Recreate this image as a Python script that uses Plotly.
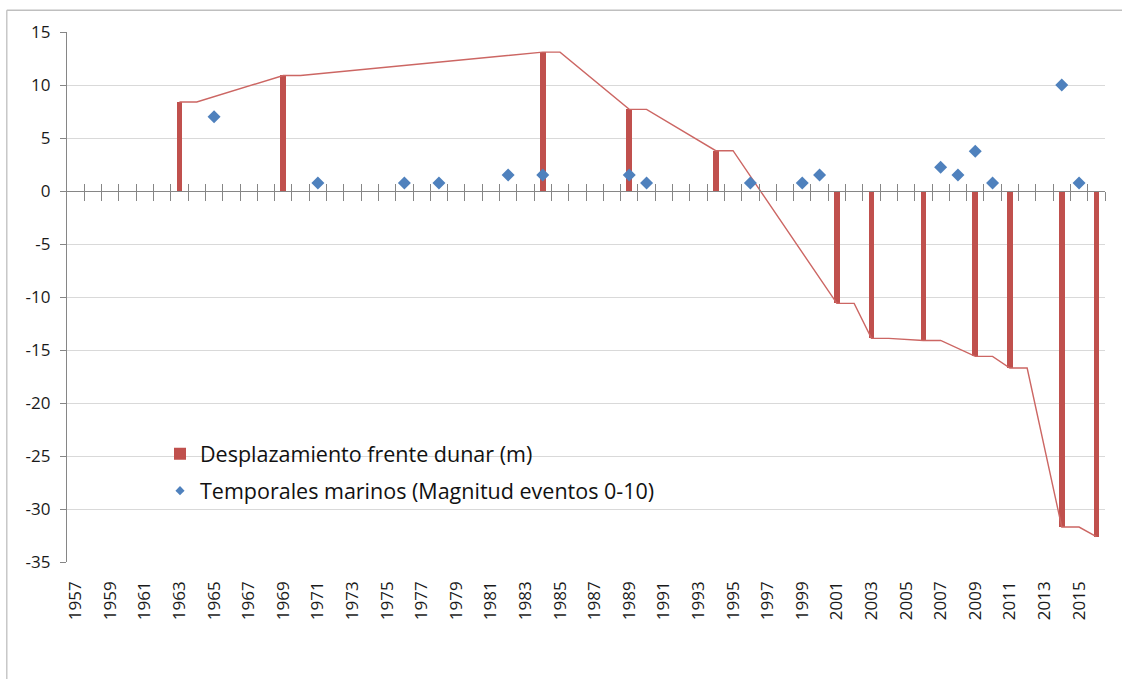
import plotly.graph_objects as go

# ---- data ----
first_year = 1957
last_year = 2016
label_years = list(range(1957, 2016, 2))

bar_years = [1963, 1969, 1984, 1989, 1994, 2001, 2003, 2006, 2009, 2011, 2014, 2016]
bar_values = [8.4, 10.9, 13.1, 7.7, 3.8, -10.6, -13.9, -14.1, -15.6, -16.7, -31.7, -32.6]

line_years = [1963, 1964, 1969, 1970, 1984, 1985, 1989, 1990, 1994, 1995, 2001, 2002,
              2003, 2004, 2006, 2007, 2009, 2010, 2011, 2012, 2014, 2015, 2016]
line_values = [8.4, 8.4, 10.9, 10.9, 13.1, 13.1, 7.7, 7.7, 3.8, 3.8, -10.6, -10.6,
               -13.9, -13.9, -14.1, -14.1, -15.6, -15.6, -16.7, -16.7, -31.7, -31.7, -32.6]

storm_years = [1965, 1971, 1976, 1978, 1982, 1984, 1989, 1990, 1996, 1999, 2000,
               2007, 2008, 2009, 2010, 2014, 2015]
storm_values = [7, 0.75, 0.75, 0.75, 1.5, 1.5, 1.5, 0.75, 0.75, 0.75, 1.5,
                2.25, 1.5, 3.75, 0.75, 10, 0.75]

y_ticks = [15, 10, 5, 0, -5, -10, -15, -20, -25, -30, -35]

bar_name = "Desplazamiento frente dunar (m)"
storm_name = "Temporales marinos (Magnitud eventos 0-10)"

y_min, y_max = -35, 15

FONT = "Open Sans"
AXIS_GREY = "#868686"
RED = "#C0504D"
BLUE = "#4F81BD"
TXT = "#1a1a1a"

x_range = [first_year - 0.5, last_year + 0.5]
boundaries = [y + 0.5 for y in range(first_year, last_year + 1)]
zero_pos = (0 - y_min) / (y_max - y_min)

fig = go.Figure()

fig.add_trace(go.Bar(
    x=bar_years, y=bar_values, width=0.33,
    marker=dict(color=RED, line=dict(width=0)),
    name=bar_name, legendgroup="a",
))
fig.add_trace(go.Scatter(
    x=line_years, y=line_values, mode="lines",
    line=dict(color="#CC6663", width=1.4),
    showlegend=False, hoverinfo="skip",
))
fig.add_trace(go.Scatter(
    x=storm_years, y=storm_values, mode="markers",
    marker=dict(symbol="diamond", size=10, color=BLUE),
    name=storm_name, showlegend=False,
))
# legend-only entry with a smaller diamond, as in the reference
fig.add_trace(go.Scatter(
    x=[None], y=[None], mode="markers",
    marker=dict(symbol="diamond", size=7, color=BLUE),
    name=storm_name, legendgroup="b", hoverinfo="skip",
))
# helper (empty) traces so the crossing-tick axes are drawn
fig.add_trace(go.Scatter(x=[None], y=[None], xaxis="x2", showlegend=False, hoverinfo="skip"))
fig.add_trace(go.Scatter(x=[None], y=[None], xaxis="x3", showlegend=False, hoverinfo="skip"))

fig.update_layout(
    width=1122, height=679,
    margin=dict(l=67, r=17, t=32, b=117),
    paper_bgcolor="white", plot_bgcolor="white",
    font=dict(family=FONT, color=TXT),
    bargap=0,
    showlegend=True,
    legend=dict(
        x=0.0896, y=0.243, xanchor="left", yanchor="top",
        bgcolor="rgba(255,255,255,0)",
        font=dict(family=FONT, size=21.5, color="#111111"),
        tracegroupgap=6,
    ),
    xaxis=dict(
        range=x_range, tickmode="array", tickvals=label_years,
        ticktext=[str(y) for y in label_years], tickangle=-90,
        tickfont=dict(family=FONT, size=17, color=TXT),
        showgrid=False, zeroline=False, showline=False, ticks="",
        ticklabelstandoff=15,
    ),
    xaxis2=dict(
        overlaying="x", range=x_range, anchor="free", position=zero_pos,
        tickmode="array", tickvals=boundaries, showticklabels=False,
        ticks="outside", ticklen=9, tickcolor=AXIS_GREY, tickwidth=1.3,
        showline=True, linecolor=AXIS_GREY, linewidth=1.3,
        showgrid=False, zeroline=False,
    ),
    xaxis3=dict(
        overlaying="x", range=x_range, anchor="free", position=zero_pos,
        tickmode="array", tickvals=boundaries, showticklabels=False,
        ticks="inside", ticklen=7, tickcolor=AXIS_GREY, tickwidth=1.3,
        showline=False, showgrid=False, zeroline=False,
    ),
    yaxis=dict(
        range=[y_min, y_max], tickmode="array", tickvals=y_ticks,
        ticktext=[str(v) for v in y_ticks],
        showgrid=True, gridcolor="#D9D9D9", gridwidth=1,
        zeroline=False, showline=True, linecolor=AXIS_GREY, linewidth=1.3,
        ticks="outside", ticklen=6, tickcolor=AXIS_GREY,
        tickfont=dict(family=FONT, size=17, color=TXT),
        ticklabelstandoff=6,
    ),
    shapes=[
        # legend background mask over gridline
        dict(type="rect", xref="paper", yref="paper", x0=0.027, x1=0.634,
             y0=0.15, y1=0.24, fillcolor="white", line=dict(width=0), layer="between"),
        # chart area border (top and left)
        dict(type="line", xref="paper", yref="paper", x0=-0.058, x1=1.05, y0=1.041, y1=1.041,
             line=dict(color="#BFBFBF", width=1.3)),
        dict(type="line", xref="paper", yref="paper", x0=-0.058, x1=-0.058, y0=1.041, y1=-0.3,
             line=dict(color="#BFBFBF", width=1.3)),
    ],
)

fig.write_html("out.html", config={"displayModeBar": False},
               post_script="document.body.style.margin='0px';")
